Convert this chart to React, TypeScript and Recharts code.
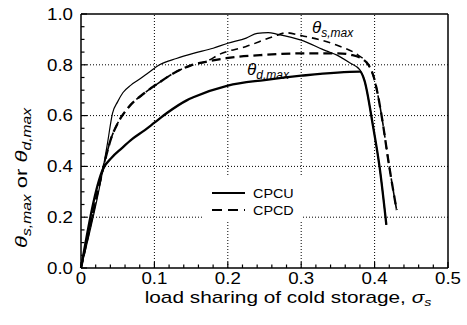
import React from 'react';
import { LineChart, Line, XAxis, YAxis, ReferenceLine } from 'recharts';

// CPCU, theta_s,max (thin solid)
const cpcuSX = [0, 0.03, 0.036, 0.043, 0.05, 0.057, 0.068, 0.078, 0.09, 0.107, 0.13, 0.153, 0.18, 0.2, 0.225, 0.24, 0.255, 0.268, 0.3, 0.334, 0.348, 0.366, 0.38, 0.386, 0.398, 0.407, 0.416];
const cpcuSY = [0, 0.39, 0.49, 0.61, 0.655, 0.69, 0.72, 0.74, 0.765, 0.8, 0.825, 0.845, 0.865, 0.885, 0.905, 0.924, 0.927, 0.92, 0.897, 0.855, 0.839, 0.808, 0.78, 0.74, 0.556, 0.393, 0.17];

// CPCU, theta_d,max (thick solid)
const cpcuDX = [0, 0.03, 0.042, 0.055, 0.07, 0.087, 0.1, 0.118, 0.144, 0.153, 0.2, 0.25, 0.3, 0.38, 0.386, 0.398, 0.407, 0.416];
const cpcuDY = [0, 0.39, 0.435, 0.47, 0.508, 0.543, 0.572, 0.612, 0.66, 0.672, 0.718, 0.74, 0.757, 0.773, 0.74, 0.556, 0.393, 0.17];

// CPCD, theta_s,max (thin dashed)
const cpcdSX = [0, 0.03, 0.034, 0.041, 0.05, 0.064, 0.087, 0.105, 0.128, 0.15, 0.17, 0.19, 0.225, 0.262, 0.28, 0.3, 0.348, 0.377, 0.39, 0.4, 0.409, 0.42, 0.43];
const cpcdSY = [0, 0.39, 0.438, 0.51, 0.57, 0.63, 0.69, 0.727, 0.77, 0.798, 0.812, 0.843, 0.872, 0.911, 0.926, 0.915, 0.878, 0.839, 0.806, 0.74, 0.609, 0.399, 0.228];

// CPCD, theta_d,max (thick dashed)
const cpcdDX = [0, 0.03, 0.034, 0.041, 0.05, 0.064, 0.087, 0.105, 0.128, 0.15, 0.17, 0.198, 0.244, 0.3, 0.35, 0.37, 0.39, 0.4, 0.409, 0.42, 0.43];
const cpcdDY = [0, 0.39, 0.438, 0.51, 0.57, 0.63, 0.69, 0.727, 0.77, 0.798, 0.812, 0.826, 0.838, 0.845, 0.845, 0.838, 0.806, 0.74, 0.609, 0.399, 0.228];

const xTicks = [0, 0.02, 0.04, 0.06, 0.08, 0.1, 0.12, 0.14, 0.16, 0.18, 0.2, 0.22, 0.24, 0.26, 0.28, 0.3, 0.32, 0.34, 0.36, 0.38, 0.4, 0.42, 0.44, 0.46, 0.48, 0.5];
const yTicks = [0, 0.05, 0.1, 0.15, 0.2, 0.25, 0.3, 0.35, 0.4, 0.45, 0.5, 0.55, 0.6, 0.65, 0.7, 0.75, 0.8, 0.85, 0.9, 0.95, 1];
const xGrid = [0.1, 0.2, 0.3, 0.4];
const yGrid = [0.2, 0.4, 0.6, 0.8];

const FONT = '"Liberation Sans", Arial, Helvetica, sans-serif';

const pts = (xs: number[], ys: number[]) => xs.map((x, i) => ({ x, y: ys[i] }));

const isMajorX = (v: number) => Math.abs(v * 10 - Math.round(v * 10)) < 1e-6;
const isMajorY = (v: number) => Math.abs(v * 5 - Math.round(v * 5)) < 1e-6;

const BottomTick = ({ x, y, payload }: any) => {
  const v = payload.value;
  const major = isMajorX(v);
  return (
    <g>
      <line x1={x} x2={x} y1={y} y2={y - (major ? 6 : 3.5)} stroke="#000" strokeWidth={1.2} />
      {major && (
        <text transform={`translate(${x},${y + 16}) scale(1.17,1)`} textAnchor="middle" fontSize={16} fontFamily={FONT} fill="#000">
          {v === 0 ? '0' : v.toFixed(1)}
        </text>
      )}
    </g>
  );
};

const TopTick = ({ x, y, payload }: any) => {
  const major = isMajorX(payload.value);
  return <line x1={x} x2={x} y1={y} y2={y + (major ? 6 : 3.5)} stroke="#000" strokeWidth={1.2} />;
};

const LeftTick = ({ x, y, payload }: any) => {
  const v = payload.value;
  const major = isMajorY(v);
  return (
    <g>
      <line x1={x} x2={x + (major ? 6 : 3.5)} y1={y} y2={y} stroke="#000" strokeWidth={1.2} />
      {major && (
        <text transform={`translate(${x - 8},${y + 5.8}) scale(1.17,1)`} textAnchor="end" fontSize={16} fontFamily={FONT} fill="#000">
          {v.toFixed(1)}
        </text>
      )}
    </g>
  );
};

const RightTick = ({ x, y, payload }: any) => {
  const major = isMajorY(payload.value);
  return <line x1={x} x2={x - (major ? 6 : 3.5)} y1={y} y2={y} stroke="#000" strokeWidth={1.2} />;
};

export default function App() {
  return (
    <div style={{ position: 'fixed', left: 0, top: 0, width: 467, height: 325, background: '#fff', fontFamily: FONT }}>
      <LineChart width={467} height={325} margin={{ top: 10, right: 9, bottom: 27, left: 31 }}>
        <XAxis dataKey="x" type="number" domain={[0, 0.5]} ticks={xTicks} interval={0} height={30}
          tickSize={0} tickMargin={0} tick={<BottomTick />} axisLine={{ stroke: '#000', strokeWidth: 1.5 }} />
        <XAxis xAxisId="top" orientation="top" dataKey="x" type="number" domain={[0, 0.5]} ticks={xTicks} interval={0} height={4}
          tickSize={0} tickMargin={0} tick={<TopTick />} axisLine={{ stroke: '#000', strokeWidth: 1.5 }} />
        <YAxis type="number" domain={[0, 1]} ticks={yTicks} interval={0} width={50}
          tickSize={0} tickMargin={0} tick={<LeftTick />} axisLine={{ stroke: '#000', strokeWidth: 1.5 }} />
        <YAxis yAxisId="right" orientation="right" type="number" domain={[0, 1]} ticks={yTicks} interval={0} width={10}
          tickSize={0} tickMargin={0} tick={<RightTick />} axisLine={{ stroke: '#000', strokeWidth: 1.5 }} />

        {xGrid.map(v => (
          <ReferenceLine key={`gx${v}`} x={v} stroke="#000" strokeWidth={1} strokeDasharray="1 2" />
        ))}
        {yGrid.map(v => (
          <ReferenceLine key={`gy${v}`} y={v} stroke="#000" strokeWidth={1} strokeDasharray="1 2" />
        ))}

        <Line data={pts(cpcuSX, cpcuSY)} dataKey="y" type="monotone" stroke="#000" strokeWidth={1.2} dot={false} isAnimationActive={false} />
        <Line data={pts(cpcuDX, cpcuDY)} dataKey="y" type="monotone" stroke="#000" strokeWidth={2.3} dot={false} isAnimationActive={false} />
        <Line data={pts(cpcdSX, cpcdSY)} dataKey="y" type="monotone" stroke="#000" strokeWidth={1.6} strokeDasharray="7 5" dot={false} isAnimationActive={false} />
        <Line data={pts(cpcdDX, cpcdDY)} dataKey="y" type="monotone" stroke="#000" strokeWidth={2.3} strokeDasharray="9 5" dot={false} isAnimationActive={false} />
      </LineChart>

      <svg width={467} height={325} style={{ position: 'absolute', left: 0, top: 0, pointerEvents: 'none' }}>
        {/* legend box hides the grid behind it */}
        <rect x={203} y={177} width={100} height={45} fill="#fff" />
        <line x1={212} x2={245} y1={193} y2={193} stroke="#000" strokeWidth={2.2} />
        <line x1={212} x2={245} y1={210} y2={210} stroke="#000" strokeWidth={2.2} strokeDasharray="10 6" />
        <text transform="translate(253,197.5) scale(1.15,1)" fontSize={12.5} fontFamily={FONT}>CPCU</text>
        <text transform="translate(253,214.5) scale(1.15,1)" fontSize={12.5} fontFamily={FONT}>CPCD</text>

        {/* curve labels */}
        <text x={312} y={33} fontSize={17} fontFamily={FONT} fontStyle="italic">
          θ<tspan fontSize={12} dy={4}>s,max</tspan>
        </text>
        <text x={247} y={75} fontSize={17} fontFamily={FONT} fontStyle="italic">
          θ<tspan fontSize={12} dy={4}>d,max</tspan>
        </text>

        {/* axis titles */}
        <text transform="translate(288,303) scale(1.3,1)" textAnchor="middle" fontSize={16} fontFamily={FONT}>
          load sharing of cold storage, <tspan fontStyle="italic">σ</tspan><tspan fontSize={11} fontStyle="italic" dy={3}>s</tspan>
        </text>
        <text transform="translate(27,178) rotate(-90) scale(1.3,1)" textAnchor="middle" fontSize={17} fontFamily={FONT}>
          <tspan fontStyle="italic">θ</tspan><tspan fontSize={12} fontStyle="italic" dy={4}>s,max</tspan>
          <tspan dy={-4}> or </tspan>
          <tspan fontStyle="italic">θ</tspan><tspan fontSize={12} fontStyle="italic" dy={4}>d,max</tspan>
        </text>
      </svg>
    </div>
  );
}
